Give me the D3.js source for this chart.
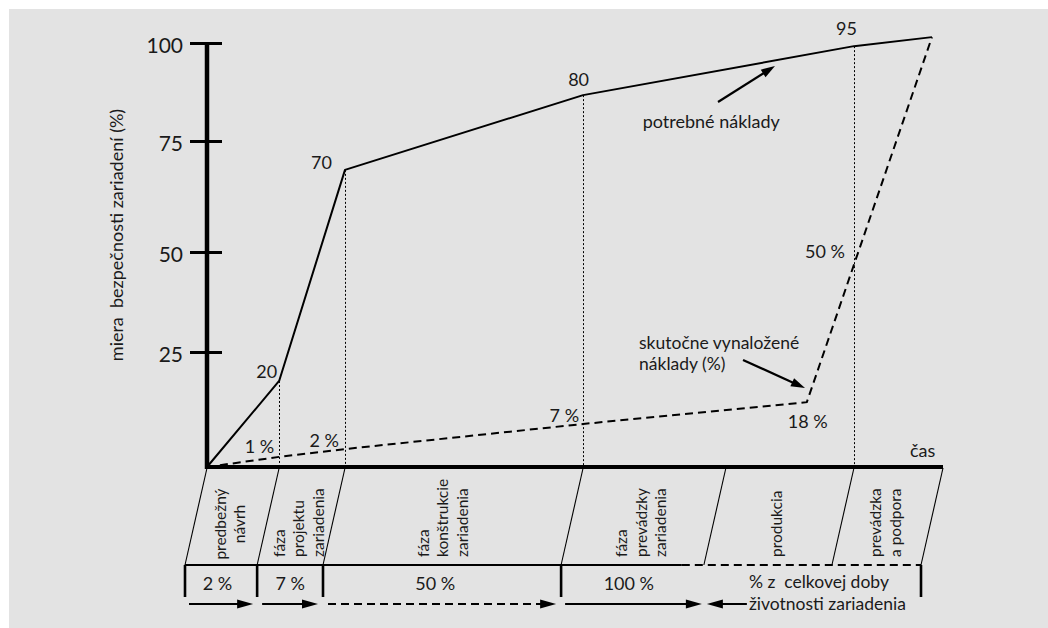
<!DOCTYPE html>
<html><head><meta charset="utf-8">
<script src="https://cdn.jsdelivr.net/npm/d3@7"></script>
<style>
html,body{margin:0;padding:0;background:#fff;}
svg text{font-family:"Lato","Open Sans",sans-serif;fill:#1a1a1a;}
</style></head><body>
<svg id="chart" width="1048" height="628"></svg>
<script>
// ---- data ----
const yTicks = [25, 50, 75, 100];
const phaseBounds = [0, 9.8, 18.75, 51.1, 70.5, 87.9, 100];
const phaseNames = [["predbežný","návrh"], ["fáza","projektu","zariadenia"], ["fáza","konštrukcie","zariadenia"], ["fáza","prevádzky","zariadenia"], ["produkcia"], ["prevádzka","a podpora"]];
const neededTime = [0, 9.8, 18.75, 51.1, 87.9, 98.5];
const neededValue = [0, 18.7, 68.5, 86.7, 99.2, 101.5];
const neededLabels = ["", "20", "70", "80", "95", ""];
const actualTime = [0, 9.8, 18.75, 51.1, 81.5, 98.5];
const actualValue = [0, 2.2, 3.9, 9.35, 14.1, 101.5];
const actualLabels = ["", "1 %", "2 %", "7 %", "18 %", ""];
const crossTime = 87.9, crossValue = 46.75, crossLabel = "50 %";
const shareBounds = [0, 9.8, 18.75, 51.1, 100];
const costShares = ["2 %", "7 %", "50 %", "100 %"];
const shareAt = [4.4, 14.3, 34.0, 60.3];
const solidEnd = 67.5;
const lifeText = ["% z  celkovej doby", "životnosti zariadenia"];
const neededNote = {text: "potrebné náklady", at: [59.2, 78.3], tail: [69.43, 84.95], tip: [77.17, 94.13]};
const actualNote = {lines: ["skutočne vynaložené", "náklady (%)"], at: [58.7, 25.85], tail: [72.83, 23.26], tip: [81.25, 17.17]};
const yTitle = "miera  bezpečnosti zariadení (%)";
const xTitle = "čas";

// ---- layout ----
const FS = 18, FS2 = 17.5;
const svg = d3.select("#chart");
svg.append("rect").attr("x", 9).attr("y", 9).attr("width", 1039).attr("height", 619).attr("fill", "#e3e3e3");

const x = d3.scaleLinear().domain([0, 100]).range([207, 943]);
const y = d3.scaleLinear().domain([0, 25, 50, 75, 100]).range([467, 352, 252, 141, 43]);

function arrow(g, x1, y1, x2, y2, opt = {}) {
  const len = opt.len || 14, w = opt.w || 8, sw = opt.sw || 2;
  const dx = x2 - x1, dy = y2 - y1, L = Math.hypot(dx, dy), ux = dx / L, uy = dy / L;
  const bx = x2 - ux * len, by = y2 - uy * len;
  g.append("line").attr("x1", x1).attr("y1", y1).attr("x2", bx + ux).attr("y2", by + uy)
    .attr("stroke", "#000").attr("stroke-width", sw).attr("stroke-dasharray", opt.dash || null);
  g.append("path").attr("d", `M${x2},${y2}L${bx - uy * w / 2},${by + ux * w / 2}L${bx + uy * w / 2},${by - ux * w / 2}Z`).attr("fill", "#000");
}

const g = svg.append("g");

// dotted guides from needed-cost vertices
const guides = d3.range(1, 5);
g.selectAll(".guide").data(guides).enter().append("line")
  .attr("x1", i => Math.round(x(neededTime[i])) + 0.5).attr("x2", i => Math.round(x(neededTime[i])) + 0.5)
  .attr("y1", i => y(neededValue[i])).attr("y2", y(0))
  .attr("stroke", "#000").attr("stroke-width", 1).attr("stroke-dasharray", "2,2");

// curves
const line = d3.line().x(d => x(d[0])).y(d => y(d[1]));
g.append("path").attr("d", line(neededTime.map((t, i) => [t, neededValue[i]])))
  .attr("fill", "none").attr("stroke", "#000").attr("stroke-width", 2).attr("stroke-linejoin", "round");
g.append("path").attr("d", line(actualTime.map((t, i) => [t, actualValue[i]])))
  .attr("fill", "none").attr("stroke", "#000").attr("stroke-width", 2).attr("stroke-dasharray", "8,5");

// axes
const yAxis = d3.axisLeft(y).tickValues(yTicks).tickSize(32).tickPadding(7);
const gy = svg.append("g").attr("transform", `translate(${x(0) + 15},0)`).call(yAxis)
  .attr("font-size", null).attr("font-family", null);
gy.select(".domain").remove();
gy.selectAll(".tick line").attr("stroke", "#000").attr("stroke-width", 3);
gy.selectAll(".tick text").attr("font-size", 21).attr("dy", "0.45em").style("fill", "#1a1a1a");
svg.append("line").attr("x1", x(0)).attr("x2", x(0)).attr("y1", y(100) - 1).attr("y2", y(0) + 2)
  .attr("stroke", "#000").attr("stroke-width", 4.5);
svg.append("line").attr("x1", x(0) - 2).attr("x2", x(100)).attr("y1", y(0)).attr("y2", y(0))
  .attr("stroke", "#000").attr("stroke-width", 4);

svg.append("text").attr("transform", `translate(${x(0) - 89.5},${(y(100) + y(0)) / 2 - 20}) rotate(-90)`)
  .attr("text-anchor", "middle").attr("dy", "0.28em").attr("font-size", FS).style("white-space", "pre").text(yTitle);
svg.append("text").attr("x", x(100) - 33).attr("y", y(0) - 10).attr("font-size", FS).text(xTitle);

// point labels
const nOff = {"20": [-2, -3, "end"], "70": [-13, -1, "end"], "80": [-4.5, -9, "middle"], "95": [-7.5, -11, "middle"]};
neededLabels.forEach((lab, i) => {
  if (!lab) return;
  const o = nOff[lab];
  g.append("text").attr("x", x(neededTime[i]) + o[0]).attr("y", y(neededValue[i]) + o[1])
    .attr("text-anchor", o[2]).attr("font-size", FS).text(lab);
});
const aOff = {"1 %": [-5, -4, "end"], "2 %": [-6, -2, "end"], "7 %": [-4, -2, "end"], "18 %": [-19, 26, "start"]};
actualLabels.forEach((lab, i) => {
  if (!lab) return;
  const o = aOff[lab];
  g.append("text").attr("x", x(actualTime[i]) + o[0]).attr("y", y(actualValue[i]) + o[1])
    .attr("text-anchor", o[2]).attr("font-size", FS).style("white-space", "pre").text(lab);
});
g.append("text").attr("x", x(crossTime) - 9).attr("y", y(crossValue) - 7).attr("text-anchor", "end")
  .attr("font-size", FS).text(crossLabel);

// annotations
g.append("text").attr("x", x(neededNote.at[0])).attr("y", y(neededNote.at[1])).attr("font-size", FS).text(neededNote.text);
arrow(g, x(neededNote.tail[0]), y(neededNote.tail[1]), x(neededNote.tip[0]), y(neededNote.tip[1]), {len: 14, w: 9, sw: 2.2});
const LH = 21.5;
const an = g.append("text").attr("x", x(actualNote.at[0])).attr("y", y(actualNote.at[1])).attr("font-size", FS2);
actualNote.lines.forEach((t, i) => {
  an.append("tspan").attr("x", x(actualNote.at[0])).attr("dy", i === 0 ? 0 : LH).text(t);
});
arrow(g, x(actualNote.tail[0]), y(actualNote.tail[1]), x(actualNote.tip[0]), y(actualNote.tip[1]), {len: 14, w: 9, sw: 2.2});

// ---- phase strip ----
const slant = 22, rowY = y(0) + 98, barBottom = rowY + 32, arrowY = barBottom + 7;
const gb = svg.append("g");
gb.selectAll(".slant").data(phaseBounds).enter().append("line")
  .attr("x1", d => x(d)).attr("y1", y(0) + 1).attr("x2", d => x(d) - slant).attr("y2", rowY)
  .attr("stroke", "#000").attr("stroke-width", 1.1);

const labelShift = [0, 0, -8, 0, 0, 0];
const step = 19.5;
phaseNames.forEach((lines, i) => {
  const mid = x((phaseBounds[i] + phaseBounds[i + 1]) / 2) - 12 + labelShift[i];
  const cx0 = mid - (lines.length - 1) / 2 * step;
  const cy = i === 0 ? 524 : rowY - 8;
  const t = gb.append("text").attr("transform", `translate(${cx0},${cy}) rotate(-90)`)
    .attr("text-anchor", i === 0 ? "middle" : "start").attr("font-size", 15.5);
  lines.forEach((s, j) => {
    t.append("tspan").attr("x", 0).attr("dy", j === 0 ? "0.28em" : step).text(s);
  });
});

gb.append("line").attr("x1", x(0) - slant).attr("x2", x(solidEnd) - slant).attr("y1", rowY).attr("y2", rowY)
  .attr("stroke", "#000").attr("stroke-width", 2);
gb.append("line").attr("x1", x(solidEnd) - slant).attr("x2", x(100) - slant).attr("y1", rowY).attr("y2", rowY)
  .attr("stroke", "#000").attr("stroke-width", 2).attr("stroke-dasharray", "8,5");
gb.selectAll(".bar").data(shareBounds).enter().append("line")
  .attr("x1", d => x(d) - slant).attr("x2", d => x(d) - slant).attr("y1", rowY).attr("y2", barBottom)
  .attr("stroke", "#000").attr("stroke-width", 2.6);

costShares.forEach((t, i) => {
  gb.append("text").attr("x", x(shareAt[i]) - slant).attr("y", rowY + 25).attr("text-anchor", "middle")
    .attr("font-size", FS).style("white-space", "pre").text(t);
});
const lifeX = x(phaseBounds[4]) - slant + 45;
const lt = gb.append("text").attr("x", lifeX).attr("y", rowY + 23).attr("font-size", FS2).style("white-space", "pre");
lifeText.forEach((t, i) => {
  lt.append("tspan").attr("x", lifeX).attr("dy", i === 0 ? 0 : LH).text(t);
});

// arrows
[[0, 1, false, 4, 4], [1, 2, false, 5, 5], [2, 3, true, 5, 5]].forEach(([a, b, dash, p1, p2]) => {
  arrow(gb, x(shareBounds[a]) - slant + p1, arrowY, x(shareBounds[b]) - slant - p2, arrowY, {len: 16, w: 9, sw: 2, dash: dash ? "8,5" : null});
});
arrow(gb, x(shareBounds[3]) - slant + 4, arrowY, x(phaseBounds[4]) - slant - 2, arrowY, {len: 16, w: 9, sw: 2});
arrow(gb, lifeX - 2, arrowY, x(phaseBounds[4]) - slant + 3, arrowY, {len: 16, w: 9, sw: 2});
</script>
</body></html>
